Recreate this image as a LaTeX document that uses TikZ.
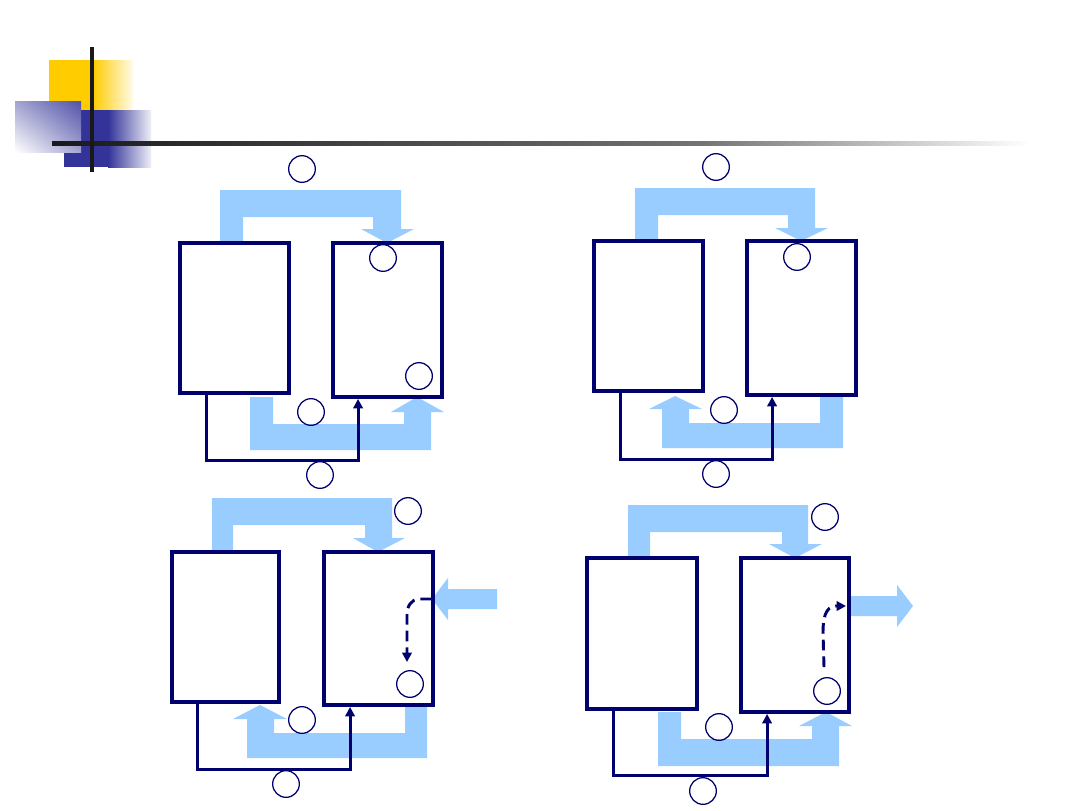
\documentclass[tikz,border=0pt]{standalone}
\usetikzlibrary{arrows.meta,calc,shadings}
\definecolor{navy}{RGB}{0,0,110}
\definecolor{flow}{RGB}{153,204,255}
\definecolor{logoyellow}{RGB}{255,204,0}
\definecolor{logoblue}{RGB}{51,51,153}
\begin{document}
\begin{tikzpicture}[x=0.75pt,y=-0.75pt,
  tank/.style 2 args={draw=navy,line width=2.9pt,inner sep=0pt,minimum width={#1*0.75pt},minimum height={#2*0.75pt}},
  ring/.style={circle,draw=navy,line width=0.95pt,minimum size=20pt,inner sep=0pt},
  flowarrow/.style={fill=flow},
  link/.style={draw=navy,line width=2.2pt,-{Triangle[length=7pt,width=7pt]}},
  dashlink/.style={draw=navy,line width=2.2pt,dash pattern=on 8pt off 4.5pt,-{Triangle[length=7pt,width=7pt]}}]
\useasboundingbox (0,0) rectangle (1080,810);
\fill[white] (0,0) rectangle (1080,810);
% ---- logo ----
\fill[logoyellow] (49,60) rectangle (93,140);
\shade[left color=logoyellow,right color=logoyellow!8] (93,60) rectangle (133,140);
\fill[logoblue] (64,110) rectangle (108,167);
\shade[left color=logoblue,right color=logoblue!8] (108,110) rectangle (151,167);
\shade[upper right=logoblue!85,lower left=white,upper left=logoblue!45,lower right=logoblue!45] (15,101) rectangle (81,152);
\shade[left color=black!90,right color=black!55] (52,141) rectangle (700,145);
\shade[left color=black!55,right color=white] (700,141) rectangle (1030,145);
\fill[black!90] (90,47) rectangle (94,172);
% ---- blue flow arrows ----
\fill[flowarrow] (220,243) -- (220,190) -- (401,190) -- (401,229) -- (414,229) -- (387,243) -- (361,229) -- (373,229) -- (373,217) -- (243,217) -- (243,243) -- cycle;
\fill[flowarrow] (250,397) -- (250,450) -- (431,450) -- (431,412) -- (444,412) -- (417,397) -- (391,412) -- (404,412) -- (404,424) -- (273,424) -- (273,397) -- cycle;
\fill[flowarrow] (635,241) -- (635,188) -- (815,188) -- (815,228) -- (828,228) -- (801,241) -- (775,228) -- (788,228) -- (788,215) -- (658,215) -- (658,241) -- cycle;
\fill[flowarrow] (843,395) -- (843,448) -- (662,448) -- (662,409) -- (649,409) -- (675,396) -- (702,409) -- (689,409) -- (689,423) -- (820,423) -- (820,395) -- cycle;
\fill[flowarrow] (212,552) -- (212,498) -- (392,498) -- (392,538) -- (405,538) -- (378,552) -- (353,538) -- (365,538) -- (365,525) -- (233,525) -- (233,552) -- cycle;
\fill[flowarrow] (427,705) -- (427,758) -- (247,758) -- (247,719) -- (233,719) -- (260,705) -- (287,719) -- (274,719) -- (274,733) -- (405,733) -- (405,705) -- cycle;
\fill[flowarrow] (432,599) -- (448,578) -- (448,589) -- (497,589) -- (497,609) -- (448,609) -- (448,620) -- cycle;
\fill[flowarrow] (628,558) -- (628,505) -- (808,505) -- (808,544) -- (822,544) -- (795,558) -- (769,544) -- (782,544) -- (782,532) -- (650,532) -- (650,558) -- cycle;
\fill[flowarrow] (658,712) -- (658,766) -- (839,766) -- (839,726) -- (852,726) -- (826,712) -- (799,726) -- (812,726) -- (812,739) -- (681,739) -- (681,712) -- cycle;
\fill[flowarrow] (849,596) -- (897,596) -- (897,585) -- (913,606) -- (897,627) -- (897,616) -- (849,616) -- cycle;
% ---- tanks ----
\node[tank={109}{150}] (L1) at (234.5,318) {};
\node[tank={109}{154}] (R1) at (387.5,320) {};
\node[tank={109}{150}] (L2) at (648.5,316) {};
\node[tank={109}{154}] (R2) at (801.5,318) {};
\node[tank={107}{150}] (L3) at (225.5,627) {};
\node[tank={109}{153}] (R3) at (378.5,628.5) {};
\node[tank={110}{151}] (L4) at (642,633.5) {};
\node[tank={108}{154}] (R4) at (795,635) {};
% ---- connectors ----
\draw[link] ($(L1.south west)+(28,0)$) -- ($(L1.south west)+(28,66)$) -| ($(R1.south west)+(27,0)$);
\draw[link] ($(L2.south west)+(28,0)$) -- ($(L2.south west)+(28,67)$) -| ($(R2.south west)+(27,0)$);
\draw[link] ($(L3.south west)+(27,0)$) -- ($(L3.south west)+(27,66)$) -| ($(R3.south west)+(28,0)$);
\draw[link] ($(L4.south west)+(28,0)$) -- ($(L4.south west)+(28,65)$) -| ($(R4.south west)+(28,0)$);
% ---- circles ----
\node[ring] (a1) at (302,169) {};
\node[ring] (b1) at (383,258) {};
\node[ring] (c1) at (419,376) {};
\node[ring] (d1) at (311,412) {};
\node[ring] (e1) at (320,475) {};
\node[ring] (a2) at (716,167) {};
\node[ring] (b2) at (797,257) {};
\node[ring] (d2) at (724,410) {};
\node[ring] (e2) at (716,474) {};
\node[ring] (a3) at (408,511) {};
\node[ring] (c3) at (410,684) {};
\node[ring] (d3) at (302,720) {};
\node[ring] (e3) at (286,784) {};
\node[ring] (a4) at (825,517) {};
\node[ring] (c4) at (827,691) {};
\node[ring] (d4) at (719,727) {};
\node[ring] (e4) at (703,791) {};
% ---- dashed internal flows ----
\coordinate (in3) at (431,599);
\draw[dashlink] (in3) -- (419,599) to[out=180,in=90] (407,614) -- ($(c3.north)+(-3,-8)$);
\coordinate (out4) at (846,606);
\draw[dashlink] ($(c4.north)+(-3,-10)$) -- (823,632) to[out=90,in=180] (836,606) -- (out4);
\end{tikzpicture}
\end{document}
